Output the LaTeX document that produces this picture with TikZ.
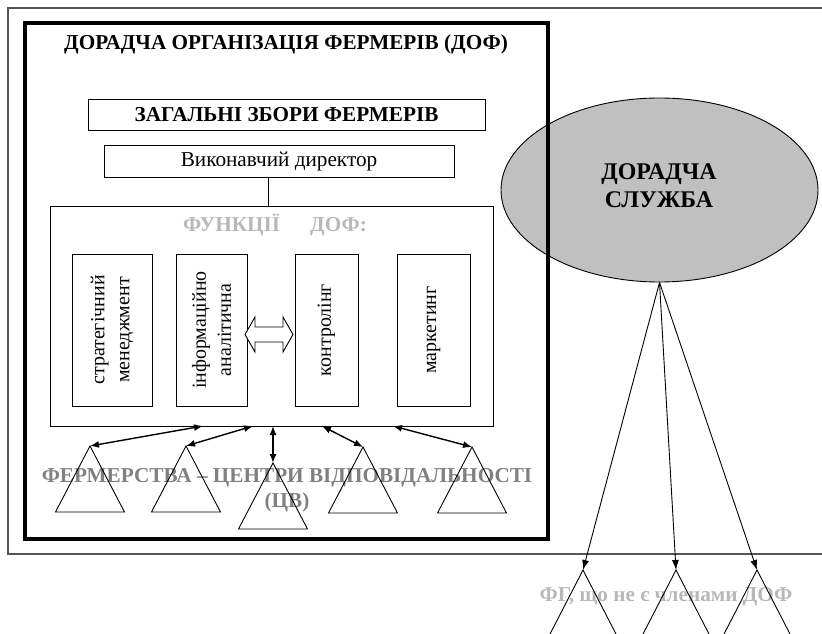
\documentclass[tikz,border=0pt]{standalone}
\usepackage{fontspec}
\setmainfont{Liberation Serif}
\usetikzlibrary{shapes.geometric,arrows.meta}
\definecolor{framegray}{HTML}{555555}
\definecolor{ellgray}{HTML}{C0C0C0}
\definecolor{midgray}{HTML}{808080}
\definecolor{ltgray}{HTML}{B8B8B8}
\begin{document}
\begin{tikzpicture}[x=1bp,y=-1bp,
  bigbold/.style={font=\bfseries\fontsize{21.3}{25}\selectfont},
  plain/.style={font=\fontsize{21.3}{25}\selectfont},
  box/.style={draw,line width=0.9bp,inner sep=0pt,align=center},
  vbox/.style={box,rotate=90,minimum width=152bp,font=\fontsize{20}{25}\selectfont},
  link/.style={line width=1.4bp,{Latex[length=9bp,width=7bp]}-{Latex[length=9bp,width=7bp]}},
  earrow/.style={line width=0.9bp,-{Latex[length=10bp,width=7bp]}},
  tri/.style={line width=0.9bp,line join=miter},
]
\useasboundingbox (0,0) rectangle (822,634);
\clip (0,0) rectangle (822,634);
% outer thin frame
\draw[framegray,line width=1.2bp] (8,8) rectangle (840,554);
% advisory service ellipse
\node[ellipse,draw,fill=ellgray,line width=0.9bp,minimum width=317bp,minimum height=184bp,inner sep=0pt] (ds) at (659.5,190) {};
\node[font=\bfseries\fontsize{24}{28}\selectfont,align=center] (dstxt) at (659,186) {ДОРАДЧА\\СЛУЖБА};
% thick frame
\draw[line width=3.5bp] (25,23) rectangle (548,539);
\node[bigbold,anchor=base] (title) at (286,50) {ДОРАДЧА ОРГАНІЗАЦІЯ ФЕРМЕРІВ (ДОФ)};
\node[box,bigbold,minimum width=397bp,minimum height=31bp] (zbory) at (286.5,114.5) {ЗАГАЛЬНІ ЗБОРИ ФЕРМЕРІВ};
\node[box,plain,minimum width=350bp,minimum height=32bp] (dir) at (279,161) {Виконавчий директор};
\node[box,minimum width=443bp,minimum height=220bp] (fun) at (271.5,316) {};
\coordinate (lk) at (268,206);
\draw[line width=0.9bp] (lk |- dir.south) -- (lk);
\node[bigbold,text=ltgray,anchor=base] (funlbl) at (275,232) {ФУНКЦІЇ\hspace{30bp}ДОФ:};
% function boxes
\node[vbox,minimum height=80bp] (b1) at (112,330) {стратегічний\\менеджмент};
\node[vbox,minimum height=71bp] (b2) at (211.5,330) {інформаційно\\аналітична};
\node[vbox,minimum height=63bp] (b3) at (326.5,330) {контролінг};
\node[vbox,minimum height=73bp] (b4) at (433.5,330) {маркетинг};
% hollow double arrow between b2 and b3
\draw[line width=0.9bp,fill=white,line join=miter] (245,334.5) -- (255,317) -- (255,327) -- (283,327) -- (283,317) -- (293,334.5) -- (283,352) -- (283,342) -- (255,342) -- (255,352) -- cycle;
% gray caption
\node[bigbold,text=midgray,anchor=base] (g1) at (287,482) {ФЕРМЕРСТВА – ЦЕНТРИ ВІДПОВІДАЛЬНОСТІ};
\node[bigbold,text=midgray,anchor=base] (g2) at (287,507) {(ЦВ)};
% farms (triangles)
\coordinate (t1) at (90,446);
\coordinate (t2) at (186,446);
\coordinate (t3) at (273,463);
\coordinate (t4) at (363,447);
\coordinate (t5) at (472,447);
\foreach \t in {t1,t2,t3,t4,t5}{\draw[tri] (\t) -- ++(34.5,66) -- ++(-69,0) -- cycle;}
\coordinate (f1) at (203,426);
\coordinate (f2) at (253,426);
\coordinate (f3) at (273,426);
\coordinate (f4) at (322,426);
\coordinate (f5) at (393,426);
\draw[link] (t1) -- (f1);
\draw[link] (t2) -- (f2);
\draw[link] (t3) -- (f3);
\draw[link] (t4) -- (f4);
\draw[link] (t5) -- (f5);
% non-member farms
\node[bigbold,text=ltgray,anchor=base] (fg) at (666,601) {ФГ, що не є членами ДОФ};
\coordinate (e1) at (583,570);
\coordinate (e2) at (676,570);
\coordinate (e3) at (757,570);
\foreach \e in {e1,e2,e3}{\draw[tri] (\e) -- ++(34,66) -- ++(-68,0) -- cycle;}
\draw[earrow] (ds.south) -- (e1);
\draw[earrow] (ds.south) -- (e2);
\draw[earrow] (ds.south) -- (e3);
\end{tikzpicture}
\end{document}
